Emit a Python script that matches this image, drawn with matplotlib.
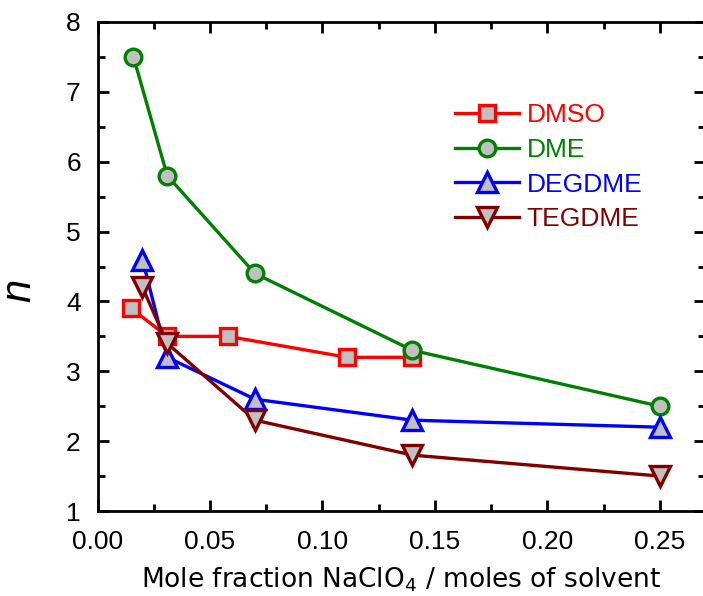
import matplotlib
matplotlib.use("Agg")
import matplotlib.pyplot as plt
from matplotlib.ticker import MultipleLocator

# n vs. salt mole fraction for each solvent
dmso_x = [0.015, 0.031, 0.058, 0.111, 0.140]
dmso_n = [3.9, 3.5, 3.5, 3.2, 3.2]

dme_x = [0.016, 0.031, 0.070, 0.140, 0.250]
dme_n = [7.5, 5.8, 4.4, 3.3, 2.5]

degdme_x = [0.020, 0.031, 0.070, 0.140, 0.250]
degdme_n = [4.6, 3.2, 2.6, 2.3, 2.2]

tegdme_x = [0.020, 0.031, 0.070, 0.140, 0.250]
tegdme_n = [4.2, 3.4, 2.3, 1.8, 1.5]

series = [
    ("DMSO", dmso_x, dmso_n, "#ff0000", "s", 11),
    ("DME", dme_x, dme_n, "#008000", "o", 12),
    ("DEGDME", degdme_x, degdme_n, "#0000ff", "^", 14),
    ("TEGDME", tegdme_x, tegdme_n, "#800000", "v", 14),
]

plt.rcParams["font.family"] = ["Liberation Sans", "DejaVu Sans"]

fig = plt.figure(figsize=(7.03, 5.96), dpi=100)
ax = fig.add_axes([0.1387, 0.1426, 0.864, 0.8205])

for name, xs, ys, col, mk, ms in series:
    ax.plot(xs, ys, color=col, lw=2.4, marker=mk, ms=ms,
            mfc="#c0c0c0", mec=col, mew=2.4, label=name)

ax.set_xlim(0, 0.27)
ax.set_ylim(1, 8)
ax.xaxis.set_major_locator(MultipleLocator(0.05))
ax.xaxis.set_minor_locator(MultipleLocator(0.025))
ax.yaxis.set_major_locator(MultipleLocator(1))
ax.yaxis.set_minor_locator(MultipleLocator(0.5))
ax.xaxis.set_major_formatter(plt.FormatStrFormatter("%.2f"))

ax.tick_params(which="both", direction="in", top=True, right=True,
               width=2, labelsize=19)
ax.tick_params(which="major", length=8)
ax.tick_params(which="minor", length=5)
ax.tick_params(axis="x", which="major", pad=14)
ax.tick_params(axis="y", which="major", pad=12)
for sp in ax.spines.values():
    sp.set_linewidth(2)

ax.set_xlabel("Mole fraction NaClO$_4$ / moles of solvent",
              fontsize=19, family="DejaVu Sans")
ax.xaxis.set_label_coords(0.5, -0.112)
ax.set_ylabel("n", fontsize=30, style="italic")
ax.yaxis.set_label_coords(-0.095, 0.452)

leg = ax.legend(loc="upper left", bbox_to_anchor=(0.571, 0.855),
                borderaxespad=0, frameon=False, fontsize=19,
                handlelength=2.42, handletextpad=0.3, labelspacing=0.40)
for txt, (_, _, _, col, _, _) in zip(leg.get_texts(), series):
    txt.set_color(col)

fig.savefig("out.png", dpi=100)
